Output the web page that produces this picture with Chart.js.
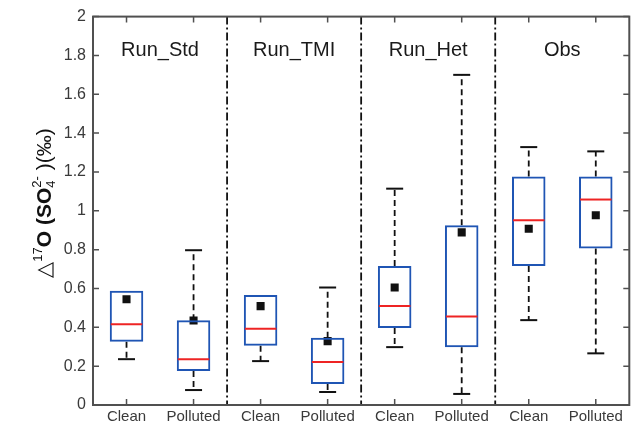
<!DOCTYPE html>
<html>
<head>
<meta charset="utf-8">
<script src="https://cdn.jsdelivr.net/npm/chart.js@4/dist/chart.umd.min.js"></script>
<style>
html,body{margin:0;padding:0;background:#fff;}
#wrap{width:635px;height:426px;position:relative;}
</style>
</head>
<body>
<div id="wrap"><canvas id="c"></canvas></div>
<script>
// ---- data ----
const categories = ['Clean','Polluted','Clean','Polluted','Clean','Polluted','Clean','Polluted'];
const groups = ['Run_Std','Run_TMI','Run_Het','Obs'];
const whiskerLow  = [0.236, 0.077, 0.226, 0.067, 0.298, 0.057, 0.437, 0.266];
const q1          = [0.326, 0.175, 0.305, 0.108, 0.397, 0.298, 0.716, 0.806];
const medians     = [0.416, 0.236, 0.392, 0.221, 0.510, 0.456, 0.951, 1.058];
const q3          = [0.588, 0.437, 0.566, 0.346, 0.716, 0.925, 1.177, 1.177];
const whiskerHigh = [0.588, 0.797, 0.566, 0.605, 1.114, 1.700, 1.328, 1.306];
const means       = [0.545, 0.435, 0.509, 0.329, 0.605, 0.889, 0.908, 0.977];
const yTicks = [0,0.2,0.4,0.6,0.8,1,1.2,1.4,1.6,1.8,2];
const yTickLabels = ['0','0.2','0.4','0.6','0.8','1','1.2','1.4','1.6','1.8','2'];
const groupLabelY = 1.825;

const FONT = "'Liberation Sans', Arial, Helvetica, sans-serif";
const BOX = '#1f55b4', MED = '#ee2424', AX = '#505050', TXT = '#3a3a3a';

const boxPlugin = {
  id: 'boxextras',
  beforeDatasetsDraw(chart) {
    const {ctx, chartArea: a, scales: {x, y}} = chart;
    ctx.save();
    // whiskers
    for (let i = 0; i < categories.length; i++) {
      const cx = x.getPixelForValue(i);
      ctx.strokeStyle = '#111';
      ctx.lineWidth = 1.8;
      ctx.setLineDash([6, 4]);
      if (whiskerHigh[i] > q3[i]) {
        ctx.beginPath();
        ctx.moveTo(cx, y.getPixelForValue(q3[i]));
        ctx.lineTo(cx, y.getPixelForValue(whiskerHigh[i]));
        ctx.stroke();
      }
      if (whiskerLow[i] < q1[i]) {
        ctx.beginPath();
        ctx.moveTo(cx, y.getPixelForValue(q1[i]));
        ctx.lineTo(cx, y.getPixelForValue(whiskerLow[i]));
        ctx.stroke();
      }
      ctx.setLineDash([]);
      ctx.lineWidth = 2;
      const hw = 8.5;
      if (whiskerHigh[i] > q3[i]) {
        const py = y.getPixelForValue(whiskerHigh[i]);
        ctx.beginPath(); ctx.moveTo(cx - hw, py); ctx.lineTo(cx + hw, py); ctx.stroke();
      }
      const py2 = y.getPixelForValue(whiskerLow[i]);
      ctx.beginPath(); ctx.moveTo(cx - hw, py2); ctx.lineTo(cx + hw, py2); ctx.stroke();
    }
    // dividers (dash-dot)
    ctx.strokeStyle = '#111';
    ctx.lineWidth = 1.8;
    ctx.setLineDash([8, 3, 2, 3]);
    for (let g = 1; g < groups.length; g++) {
      const dx = (x.getPixelForValue(2 * g - 1) + x.getPixelForValue(2 * g)) / 2;
      ctx.beginPath(); ctx.moveTo(dx, a.top); ctx.lineTo(dx, a.bottom); ctx.stroke();
    }
    ctx.setLineDash([]);
    // group labels
    ctx.fillStyle = '#1a1a1a';
    ctx.font = '20px ' + FONT;
    ctx.textAlign = 'center';
    ctx.textBaseline = 'middle';
    for (let g = 0; g < groups.length; g++) {
      const gx = (x.getPixelForValue(2 * g) + x.getPixelForValue(2 * g + 1)) / 2;
      ctx.fillText(groups[g], gx, y.getPixelForValue(groupLabelY));
    }
    ctx.restore();
  },
  afterDatasetDraw(chart, args) {
    if (args.index !== 0) return;
    const {ctx, scales: {x, y}} = chart;
    const meta = chart.getDatasetMeta(0);
    ctx.save();
    ctx.strokeStyle = MED;
    ctx.lineWidth = 2;
    meta.data.forEach((bar, i) => {
      const hw = bar.width / 2 - 1;
      const py = y.getPixelForValue(medians[i]);
      ctx.beginPath(); ctx.moveTo(bar.x - hw, py); ctx.lineTo(bar.x + hw, py); ctx.stroke();
    });
    ctx.restore();
  },
  afterDraw(chart) {
    const {ctx, chartArea: a, scales: {x, y}} = chart;
    ctx.save();
    // frame
    ctx.strokeStyle = AX;
    ctx.lineWidth = 2;
    ctx.strokeRect(a.left, a.top, a.right - a.left, a.bottom - a.top);
    // inward ticks
    ctx.lineWidth = 1.5;
    const tl = 6;
    ctx.beginPath();
    yTicks.forEach(v => {
      const py = y.getPixelForValue(v);
      ctx.moveTo(a.left, py); ctx.lineTo(a.left + tl, py);
      ctx.moveTo(a.right, py); ctx.lineTo(a.right - tl, py);
    });
    categories.forEach((c, i) => {
      const px = x.getPixelForValue(i);
      ctx.moveTo(px, a.bottom); ctx.lineTo(px, a.bottom - tl);
      ctx.moveTo(px, a.top); ctx.lineTo(px, a.top + tl);
    });
    ctx.stroke();
    // y-axis title (rich text, rotated)
    const segs = [
      {t: '\u25B3', f: '21px ' + FONT, dy: 0},
      {t: '17', f: '13px ' + FONT, dy: -9},
      {t: 'O (SO', f: 'bold 21px ' + FONT, dy: 0},
      {t: '4', f: '13px ' + FONT, dy: 4},
      {t: ' )(\u2030)', f: '21px ' + FONT, dy: 0}
    ];
    const sup = {t: '2-', f: '13px ' + FONT, dy: -10};
    segs.forEach(s => { ctx.font = s.f; s.w = ctx.measureText(s.t).width; });
    ctx.font = sup.f; sup.w = ctx.measureText(sup.t).width;
    const subIdx = 3;
    segs[subIdx].w = Math.max(segs[subIdx].w, sup.w);
    const total = segs.reduce((s, g) => s + g.w, 0);
    ctx.translate(51, 203);
    ctx.rotate(-Math.PI / 2);
    ctx.fillStyle = '#111';
    ctx.textAlign = 'left';
    ctx.textBaseline = 'alphabetic';
    let cx = -total / 2;
    segs.forEach((s, i) => {
      ctx.font = s.f;
      ctx.fillText(s.t, cx, s.dy);
      if (i === subIdx) { ctx.font = sup.f; ctx.fillText(sup.t, cx, sup.dy); }
      cx += s.w;
    });
    ctx.restore();
  }
};

new Chart(document.getElementById('c'), {
  data: {
    labels: categories,
    datasets: [
      {
        type: 'bar',
        data: q1.map((v, i) => [v, q3[i]]),
        backgroundColor: 'rgba(0,0,0,0)',
        borderColor: BOX,
        borderWidth: 2,
        borderSkipped: false,
        categoryPercentage: 1,
        barPercentage: 0.5
      },
      {
        type: 'line',
        data: means,
        showLine: false,
        pointStyle: 'rect',
        pointRadius: 5.7,
        pointBackgroundColor: '#111',
        pointBorderColor: '#111',
        pointBorderWidth: 0
      }
    ]
  },
  options: {
    responsive: true,
    maintainAspectRatio: false,
    animation: false,
    layout: {padding: {top: 16, right: 5, left: 0, bottom: 0}},
    plugins: {legend: {display: false}, tooltip: {enabled: false}},
    scales: {
      x: {
        type: 'category',
        offset: true,
        grid: {display: false, drawTicks: false},
        border: {display: false},
        ticks: {font: {size: 15, family: FONT}, color: TXT, padding: 3},
        afterFit: s => { s.height = 21; }
      },
      y: {
        type: 'linear',
        min: 0, max: 2,
        grid: {display: false, drawTicks: false},
        border: {display: false},
        afterBuildTicks: s => { s.ticks = yTicks.map(v => ({value: v})); },
        ticks: {
          font: {size: 16, family: FONT}, color: TXT, padding: 7,
          callback: (v, i) => yTickLabels[i]
        },
        afterFit: s => { s.width = 93; }
      }
    }
  },
  plugins: [boxPlugin]
});
</script>
</body>
</html>
